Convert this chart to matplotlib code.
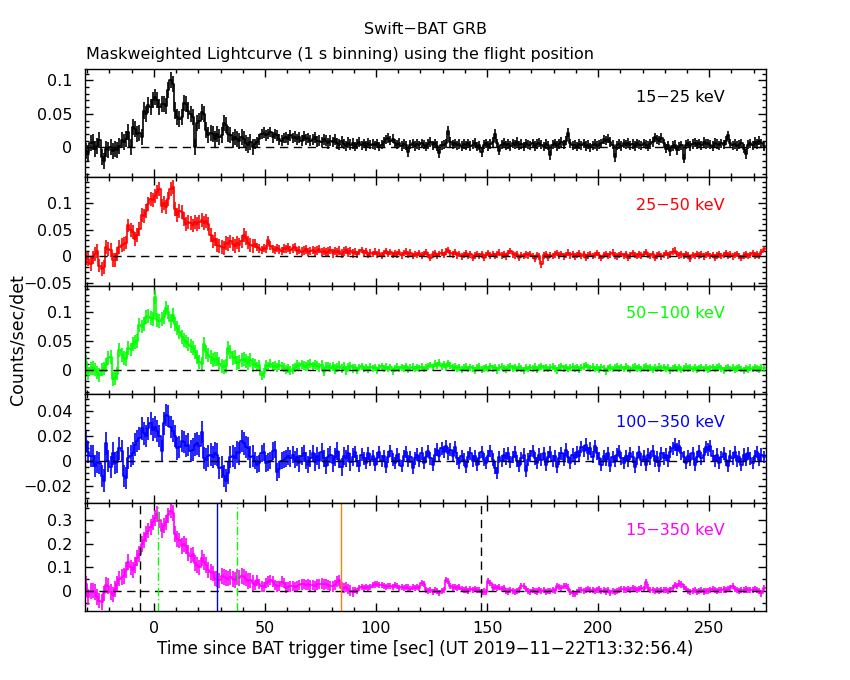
import numpy as np
import matplotlib
matplotlib.use("Agg")
import matplotlib.pyplot as plt
from matplotlib.ticker import MultipleLocator, FuncFormatter

# 1 s bins, first bin starts at t = -31 s
t_start = -31

rate_15_25 = [
    -0.005, -0.008, 0.006, 0.008, -0.002, 0.002, 0.011, -0.015, -0.02, -0.002,
    -0.004, 0.0, -0.005, -0.003, -0.004, 0.002, 0.011, 0.008, 0.012, 0.023,
    0.0, 0.03, 0.028, 0.02, 0.022, 0.016, 0.055, 0.05, 0.063, 0.06,
    0.07, 0.075, 0.07, 0.06, 0.065, 0.065, 0.062, 0.085, 0.1, 0.095,
    0.055, 0.045, 0.043, 0.045, 0.066, 0.065, 0.055, 0.05, 0.045, 0.0,
    0.036, 0.04, 0.053, 0.05, 0.026, 0.018, 0.022, 0.02, 0.012, 0.02,
    0.015, 0.018, 0.036, 0.033, 0.02, 0.018, 0.011, 0.015, 0.013, 0.01,
    0.015, 0.012, 0.006, 0.004, 0.008, 0.0, 0.005, 0.008, 0.012, 0.02,
    0.022, 0.018, 0.02, 0.023, 0.015, 0.02, 0.018, 0.012, 0.01, 0.014,
    0.015, 0.012, 0.018, 0.014, 0.016, 0.012, 0.015, 0.01, 0.017, 0.012,
    0.014, 0.01, 0.012, 0.015, 0.009, 0.01, 0.008, 0.012, 0.01, 0.006,
    0.01, 0.008, 0.012, 0.006, 0.004, 0.009, 0.005, 0.002, 0.007, 0.004,
    0.006, 0.001, 0.005, 0.008, 0.003, 0.006, 0.002, 0.007, 0.004, 0.005,
    0.003, 0.006, 0.001, 0.004, 0.008, 0.012, 0.014, 0.01, 0.013, 0.006,
    0.004, 0.007, 0.002, 0.005, 0.003, -0.007, 0.004, 0.006, 0.002, 0.005,
    0.003, 0.006, 0.004, 0.001, 0.005, 0.008, 0.003, 0.006, 0.002, -0.009,
    0.003, 0.004, 0.006, 0.025, 0.008, 0.004, 0.006, 0.003, 0.005, 0.002,
    0.005, 0.003, 0.006, 0.002, 0.004, 0.007, 0.001, 0.003, -0.007, 0.004,
    0.006, 0.002, 0.005, 0.008, 0.02, 0.006, -0.005, 0.004, 0.007, 0.003,
    0.005, 0.002, 0.006, 0.004, 0.008, 0.003, 0.005, 0.001, 0.006, 0.004,
    0.003, 0.006, 0.002, 0.005, 0.007, 0.004, 0.001, 0.005, 0.003, -0.012,
    0.004, 0.006, 0.002, 0.005, 0.008, 0.004, 0.01, 0.022, 0.006, 0.003,
    0.004, 0.001, 0.005, 0.003, 0.006, 0.002, 0.004, 0.0, 0.003, 0.005,
    0.002, 0.004, 0.006, 0.012, 0.01, 0.013, 0.008, 0.004, -0.015, 0.003,
    0.005, 0.002, 0.006, 0.004, 0.007, 0.003, 0.005, 0.002, 0.006, 0.004,
    0.003, 0.006, 0.004, 0.002, 0.005, 0.008, 0.015, 0.012, 0.01, 0.014,
    0.006, -0.002, 0.003, -0.006, 0.002, 0.004, -0.004, 0.001, 0.003, -0.017,
    0.004, 0.006, 0.002, 0.005, 0.007, 0.004, 0.006, 0.003, 0.008, 0.005,
    0.006, 0.004, 0.002, 0.007, 0.005, 0.003, 0.006, 0.004, 0.01, 0.018,
    0.006, 0.003, 0.005, 0.002, 0.004, 0.006, -0.002, -0.01, 0.004, 0.006,
    0.003, 0.008, 0.005, 0.01, 0.006, 0.002,
]

rate_25_50 = [
    -0.003, -0.005, -0.014, -0.002, 0.004, 0.01, -0.017, -0.023, -0.02, 0.017,
    0.014, 0.012, -0.006, -0.007, 0.005, 0.018, 0.022, 0.024, 0.026, 0.058,
    0.05, 0.045, 0.033, 0.04, 0.052, 0.078, 0.075, 0.085, 0.098, 0.108,
    0.105, 0.113, 0.12, 0.126, 0.095, 0.1, 0.092, 0.108, 0.126, 0.13,
    0.089, 0.077, 0.085, 0.083, 0.07, 0.06, 0.065, 0.062, 0.058, 0.064,
    0.06, 0.065, 0.068, 0.062, 0.066, 0.06, 0.04, 0.028, 0.032, 0.022,
    0.02, 0.018, 0.016, 0.025, 0.024, 0.028, 0.023, 0.02, 0.026, 0.022,
    0.028, 0.04, 0.035, 0.026, 0.022, 0.02, 0.024, 0.018, 0.015, 0.012,
    0.016, 0.014, 0.03, 0.02, 0.014, 0.012, 0.016, 0.013, 0.01, 0.015,
    0.014, 0.017, 0.012, 0.015, 0.018, 0.01, 0.012, 0.009, 0.011, 0.013,
    0.008, 0.01, 0.012, 0.009, 0.011, 0.014, 0.008, 0.01, 0.007, 0.009,
    0.012, 0.006, 0.01, 0.008, 0.011, 0.005, 0.009, 0.012, 0.007, 0.01,
    0.006, 0.009, 0.004, 0.008, 0.012, 0.006, 0.01, 0.003, 0.007, 0.005,
    0.009, 0.004, 0.007, 0.002, 0.006, 0.01, 0.005, 0.008, 0.003, 0.006,
    0.004, 0.008, 0.002, 0.006, 0.009, 0.004, 0.007, 0.001, 0.005, 0.003,
    0.006, 0.002, 0.005, 0.008, 0.003, -0.002, 0.004, 0.006, 0.001, 0.005,
    0.007, 0.003, 0.009, 0.012, 0.006, 0.004, 0.008, 0.002, 0.005, 0.0,
    0.003, 0.006, 0.001, 0.004, -0.003, 0.002, 0.005, 0.001, 0.004, -0.002,
    0.003, 0.006, 0.002, 0.005, 0.001, 0.004, 0.007, 0.002, 0.004, 0.0,
    0.006, 0.01, 0.004, 0.002, 0.005, -0.003, 0.003, 0.001, 0.004, 0.002,
    0.005, 0.001, -0.004, 0.003, 0.0, -0.015, 0.002, 0.004, -0.002, 0.003,
    0.001, 0.004, 0.006, 0.002, 0.005, 0.0, 0.003, 0.007, 0.002, 0.004,
    0.0, 0.003, 0.006, 0.001, 0.004, -0.002, 0.002, 0.005, 0.001, 0.003,
    0.006, 0.002, -0.003, 0.003, 0.005, 0.001, 0.004, 0.007, 0.002, 0.0,
    0.003, 0.005, 0.001, 0.004, -0.002, 0.002, 0.006, 0.003, 0.001, 0.004,
    0.002, 0.005, 0.008, 0.003, 0.001, 0.004, -0.003, 0.002, 0.005, 0.0,
    0.003, 0.006, 0.002, 0.004, 0.009, 0.011, 0.005, 0.002, 0.004, 0.001,
    0.004, 0.002, -0.004, 0.003, 0.001, 0.005, 0.002, 0.004, 0.0, 0.003,
    0.005, 0.001, 0.003, -0.002, 0.002, 0.004, 0.001, 0.003, 0.006, 0.002,
    0.004, 0.0, 0.003, 0.005, 0.001, -0.003, 0.002, 0.004, 0.001, 0.003,
    0.006, 0.002, 0.004, 0.001, 0.008, 0.014,
]

rate_50_100 = [
    0.013, -0.007, 0.002, 0.003, 0.0, -0.005, -0.009, 0.0, 0.002, 0.008,
    0.02, 0.022, -0.017, -0.015, -0.007, 0.034, 0.025, 0.02, 0.018, 0.037,
    0.035, 0.045, 0.048, 0.05, 0.078, 0.075, 0.08, 0.092, 0.094, 0.09,
    0.088, 0.127, 0.086, 0.084, 0.088, 0.092, 0.107, 0.1, 0.084, 0.095,
    0.08, 0.073, 0.066, 0.057, 0.052, 0.049, 0.045, 0.041, 0.037, 0.03,
    0.022, 0.013, 0.01, 0.045, 0.03, 0.025, 0.022, 0.016, 0.018, 0.019,
    0.01, 0.006, 0.004, 0.006, 0.037, 0.03, 0.02, 0.022, 0.012, 0.013,
    0.016, 0.018, 0.015, 0.012, 0.016, 0.008, 0.01, 0.006, 0.008, -0.01,
    -0.006, 0.008, 0.006, 0.01, 0.005, 0.007, 0.004, 0.008, 0.006, 0.003,
    0.0, 0.002, -0.002, 0.001, 0.003, 0.008, 0.006, 0.009, 0.007, 0.005,
    0.008, 0.01, 0.006, 0.009, 0.007, 0.004, 0.008, -0.004, 0.005, 0.006,
    0.003, 0.006, 0.001, 0.004, 0.007, 0.002, 0.005, -0.001, 0.003, 0.006,
    0.002, 0.004, -0.002, 0.003, 0.006, 0.001, 0.004, 0.0, 0.005, 0.002,
    0.004, -0.001, 0.003, 0.006, 0.002, 0.005, 0.001, 0.004, -0.003, 0.002,
    0.005, 0.001, 0.004, 0.002, 0.006, 0.0, 0.003, 0.005, 0.001, 0.004,
    0.002, 0.005, 0.001, 0.003, 0.006, 0.008, 0.004, 0.01, 0.007, 0.012,
    0.006, 0.009, 0.004, 0.011, 0.007, 0.003, 0.005, 0.002, 0.004, 0.0,
    0.003, 0.005, 0.001, 0.004, 0.002, -0.002, 0.003, 0.005, 0.0, 0.002,
    0.004, 0.001, 0.006, 0.002, 0.004, -0.001, 0.003, 0.005, 0.002, 0.0,
    0.003, 0.006, 0.002, 0.004, 0.001, 0.005, 0.002, -0.002, 0.003, 0.001,
    0.004, 0.002, 0.005, 0.0, 0.003, 0.006, 0.002, 0.004, 0.001, 0.003,
    0.005, 0.002, -0.001, 0.003, 0.006, 0.002, 0.004, 0.001, 0.003, 0.005,
    0.002, 0.004, 0.0, 0.003, 0.005, 0.008, 0.004, 0.002, 0.005, 0.001,
    0.003, 0.0, 0.004, 0.002, -0.003, 0.002, 0.004, 0.001, 0.003, 0.005,
    0.002, 0.004, 0.001, 0.005, 0.002, 0.0, 0.003, 0.005, 0.002, 0.004,
    0.001, 0.003, 0.006, 0.002, 0.004, 0.0, 0.003, 0.001, 0.005, 0.002,
    0.004, 0.001, 0.003, -0.002, 0.002, 0.004, 0.001, 0.003, 0.0, 0.002,
    0.005, 0.002, 0.004, 0.001, 0.003, 0.0, 0.002, 0.004, 0.001, 0.003,
    0.0, 0.002, 0.004, 0.001, 0.003, 0.005, 0.002, -0.001, 0.002, 0.004,
    0.001, 0.003, 0.0, 0.002, 0.004, 0.001, -0.002, 0.002, 0.0, 0.003,
    0.001, 0.004, 0.002, 0.0, 0.003, 0.002,
]

rate_100_350 = [
    0.016, 0.007, 0.004, 0.004, -0.004, -0.001, -0.002, -0.012, -0.016, 0.014,
    0.0, -0.005, 0.006, -0.002, -0.001, 0.01, 0.008, -0.012, -0.014, 0.002,
    0.004, 0.006, 0.013, 0.016, 0.018, 0.026, 0.022, 0.02, 0.026, 0.03,
    0.025, 0.027, 0.024, 0.02, 0.008, 0.03, 0.037, 0.036, 0.027, 0.024,
    0.02, 0.01, 0.011, 0.016, 0.015, 0.012, 0.013, 0.008, 0.009, 0.013,
    0.014, 0.012, 0.023, 0.002, 0.001, 0.004, 0.005, 0.003, 0.006, 0.005,
    -0.006, -0.005, -0.012, -0.016, -0.01, 0.003, 0.004, 0.002, 0.007, 0.006,
    0.016, 0.014, 0.011, 0.01, 0.003, 0.004, 0.0, -0.003, -0.002, 0.006,
    0.007, -0.002, -0.001, 0.0, 0.008, 0.009, -0.009, -0.007, 0.0, 0.001,
    0.002, 0.004, 0.002, 0.005, 0.001, 0.003, -0.002, 0.004, 0.006, 0.0,
    -0.003, 0.002, 0.006, -0.001, 0.004, 0.0, 0.007, 0.002, -0.004, 0.003,
    0.005, -0.002, 0.003, 0.008, 0.001, -0.005, 0.004, 0.002, 0.006, -0.001,
    0.003, 0.007, 0.0, -0.004, 0.005, 0.002, -0.002, 0.006, 0.001, 0.004,
    -0.003, 0.002, 0.007, 0.0, 0.004, -0.005, 0.003, 0.008, 0.001, -0.002,
    0.005, 0.001, -0.004, 0.004, 0.007, 0.0, 0.003, -0.006, 0.002, 0.005,
    0.0, 0.006, -0.002, 0.003, 0.008, 0.002, -0.003, 0.005, 0.009, 0.004,
    0.01, 0.007, 0.012, 0.006, 0.009, 0.004, 0.011, 0.002, -0.002, 0.004,
    0.001, -0.005, 0.003, 0.006, 0.0, 0.004, -0.003, 0.002, 0.007, 0.001,
    -0.002, 0.004, 0.008, 0.001, -0.006, -0.01, 0.003, 0.0, 0.005, 0.002,
    0.006, -0.001, 0.003, 0.007, 0.0, -0.004, 0.002, 0.005, -0.008, 0.001,
    0.004, 0.008, 0.002, -0.002, 0.005, 0.001, 0.006, -0.003, 0.003, 0.007,
    0.0, 0.004, -0.005, 0.002, 0.006, 0.001, 0.009, 0.003, -0.002, 0.005,
    0.002, 0.007, 0.004, 0.011, 0.008, 0.013, 0.006, 0.01, 0.003, 0.012,
    0.006, 0.002, -0.003, 0.004, 0.001, 0.006, -0.004, 0.003, 0.0, 0.005,
    0.008, 0.002, -0.002, 0.004, 0.0, 0.006, 0.003, -0.005, 0.002, 0.007,
    0.001, 0.004, -0.003, 0.005, 0.002, 0.008, 0.0, 0.003, -0.004, 0.006,
    0.002, 0.005, 0.0, 0.007, 0.01, 0.013, 0.009, 0.012, 0.006, 0.003,
    -0.002, 0.004, 0.001, 0.006, -0.003, 0.003, 0.008, 0.002, 0.005, 0.011,
    0.009, 0.012, 0.004, 0.0, 0.005, -0.002, 0.003, 0.006, 0.001, -0.004,
    0.004, 0.002, 0.007, 0.0, 0.003, -0.003, 0.005, 0.001, 0.006, 0.002,
    -0.002, 0.004, 0.007, 0.001, 0.005, 0.003,
]

rate_15_350 = [
    0.032, -0.024, 0.0, 0.002, -0.005, -0.024, -0.04, -0.045, -0.01, 0.025,
    0.022, -0.005, -0.015, 0.008, 0.03, 0.053, 0.06, 0.065, 0.09, 0.123,
    0.1, 0.088, 0.11, 0.14, 0.158, 0.2, 0.215, 0.242, 0.256, 0.27,
    0.29, 0.31, 0.326, 0.3, 0.256, 0.277, 0.29, 0.32, 0.34, 0.33,
    0.242, 0.22, 0.214, 0.19, 0.2, 0.19, 0.16, 0.15, 0.155, 0.12,
    0.11, 0.1, 0.14, 0.123, 0.11, 0.088, 0.08, 0.075, 0.053, 0.05,
    0.045, 0.065, 0.06, 0.055, 0.053, 0.06, 0.05, 0.046, 0.06, 0.055,
    0.063, 0.06, 0.053, 0.042, 0.045, 0.035, 0.025, 0.045, 0.03, 0.02,
    0.018, 0.035, 0.04, 0.046, 0.04, 0.025, 0.02, 0.022, 0.04, 0.035,
    0.015, 0.018, 0.02, 0.022, 0.018, 0.02, 0.025, 0.028, 0.03, 0.025,
    0.028, 0.024, 0.026, 0.022, 0.028, 0.03, 0.032, 0.028, 0.03, 0.025,
    0.022, 0.02, 0.025, 0.04, 0.045, 0.015, 0.012, 0.018, 0.01, 0.002,
    -0.005, 0.003, 0.0, 0.012, 0.018, 0.014, 0.016, 0.012, 0.018, 0.025,
    0.028, 0.03, 0.025, 0.027, 0.022, 0.018, 0.022, 0.02, 0.016, 0.024,
    0.02, 0.014, 0.017, 0.012, 0.018, 0.015, 0.01, 0.016, 0.013, 0.018,
    0.014, 0.035, 0.03, 0.004, 0.0, 0.006, -0.004, 0.003, 0.0, -0.008,
    0.002, 0.005, 0.046, 0.042, 0.02, 0.015, 0.018, 0.012, 0.016, 0.01,
    0.005, 0.007, 0.002, 0.008, 0.004, 0.01, 0.003, 0.006, -0.004, -0.002,
    -0.003, 0.042, 0.035, 0.015, 0.018, 0.012, 0.016, 0.01, 0.014, 0.002,
    -0.002, 0.003, 0.0, -0.004, 0.002, 0.005, 0.02, 0.022, 0.008, 0.001,
    -0.003, 0.004, 0.001, -0.002, 0.003, 0.0, 0.005, -0.005, 0.002, 0.0,
    0.004, 0.002, 0.02, 0.018, 0.012, 0.02, 0.022, 0.015, -0.005, -0.01,
    -0.012, -0.004, 0.003, 0.006, 0.002, 0.005, 0.008, 0.003, 0.006, 0.001,
    0.004, 0.007, 0.002, 0.005, -0.002, 0.003, -0.008, 0.0, -0.004, 0.002,
    0.006, 0.01, 0.007, 0.004, 0.009, 0.006, 0.011, 0.008, 0.005, 0.01,
    0.012, 0.008, 0.037, 0.015, 0.004, 0.006, 0.002, 0.005, 0.0, 0.006,
    0.003, 0.004, 0.001, 0.006, 0.012, 0.025, 0.02, 0.032, 0.028, 0.018,
    0.01, 0.002, -0.003, 0.001, 0.004, -0.004, 0.0, 0.003, -0.002, 0.002,
    0.0, 0.004, 0.008, 0.005, 0.002, 0.006, 0.003, 0.007, 0.004, 0.01,
    0.012, 0.02, 0.008, 0.005, 0.002, 0.006, 0.004, 0.007, 0.005, 0.003,
    0.006, 0.009, 0.004, 0.002, -0.01, 0.012,
]

# error bar half-sizes, constant inside each time segment
err_edges = [-31, 45, 90]
err_15_25 = [0.012, 0.008, 0.007]
err_25_50 = [0.013, 0.008, 0.006]
err_50_100 = [0.012, 0.008, 0.006]
err_100_350 = [0.009, 0.007, 0.005]
err_15_350 = [0.033, 0.022, 0.013]

band_labels = ["15\u221225 keV", "25\u221250 keV", "50\u2212100 keV",
               "100\u2212350 keV", "15\u2212350 keV"]
colors = ["black", "#ff0000", "#00ff00", "#0000ff", "#ff00ff"]

# times of the marker lines in the bottom panel
t_black_dashed = [-6.2, 147.3]
t_green_dashdot = [1.9, 37.5]
t_blue = 28.5
t_orange = 84.3

rates = [rate_15_25, rate_25_50, rate_50_100, rate_100_350, rate_15_350]
errs = [err_15_25, err_25_50, err_50_100, err_100_350, err_15_350]
ylims = [(-0.045, 0.117), (-0.055, 0.148), (-0.043, 0.146),
         (-0.0336, 0.0535), (-0.084, 0.374)]
major = [0.05, 0.05, 0.05, 0.02, 0.1]
minor = [0.01, 0.01, 0.01, 0.005, 0.05]

fs = 11.5


def fmt(v, pos):
    v = round(v, 6)
    if v == 0:
        return "0"
    return f"{v:g}".replace("-", "\u2212")


fig = plt.figure(figsize=(8.5, 6.8), dpi=100)
axes = fig.subplots(5, 1, sharex=True)
fig.subplots_adjust(left=0.1, right=0.901, top=0.8985, bottom=0.1015, hspace=0)

for i, ax in enumerate(axes):
    vals = np.array(rates[i])
    edges = t_start + np.arange(len(vals) + 1)
    centers = edges[:-1] + 0.5
    seg = np.searchsorted(err_edges, centers, side="right") - 1
    yerr = np.array(errs[i])[seg]
    c = colors[i]

    ax.step(edges, np.append(vals, vals[-1]), where="post", color=c, lw=1.2)
    ax.errorbar(centers, vals, yerr=yerr, fmt="none", ecolor=c,
                elinewidth=1.2, capsize=0)
    ax.axhline(0, color="black", lw=1.0, ls=(0, (6, 4)))

    ax.set_xlim(-31, 275.5)
    ax.set_ylim(*ylims[i])
    ax.yaxis.set_major_locator(MultipleLocator(major[i]))
    ax.yaxis.set_minor_locator(MultipleLocator(minor[i]))
    ax.yaxis.set_major_formatter(FuncFormatter(fmt))
    ax.xaxis.set_major_locator(MultipleLocator(50))
    ax.xaxis.set_minor_locator(MultipleLocator(10))
    ax.tick_params(which="both", direction="in", top=True, right=True,
                   width=1.0, labelsize=fs)
    ax.tick_params(which="major", length=6)
    ax.tick_params(which="minor", length=3)
    ax.tick_params(axis="y", pad=9)
    ax.tick_params(axis="x", pad=7.5)
    for sp in ax.spines.values():
        sp.set_linewidth(1.0)

    ax.text(0.94, 0.74, band_labels[i], transform=ax.transAxes,
            ha="right", va="center", color=c, fontsize=fs)

# marker lines in the 15-350 keV panel
ax = axes[-1]
for t in t_black_dashed:
    ax.axvline(t, color="black", lw=1.0, ls=(0, (6, 4)))
for t in t_green_dashdot:
    ax.axvline(t, color="#00ff00", lw=1.0, ls=(0, (6, 2, 1, 2)))
ax.axvline(t_blue, color="#0000ff", lw=1.0)
ax.axvline(t_orange, color="#ff8000", lw=1.0)

fig.text(0.5, 1 - 30 / 680, "Swift\u2212BAT GRB", ha="center", va="center",
         fontsize=fs)
fig.text(86 / 850, 1 - 54 / 680,
         "Maskweighted Lightcurve (1 s binning) using the flight position",
         ha="left", va="center", fontsize=fs)
fig.text(0.5, 1 - 649 / 680,
         "Time since BAT trigger time [sec] (UT 2019\u221211\u221222T13:32:56.4)",
         ha="center", va="center", fontsize=12)
fig.text(18 / 850, 0.5, "Counts/sec/det", rotation=90, ha="center",
         va="center", fontsize=12.5)

fig.savefig("out.png", dpi=100)
